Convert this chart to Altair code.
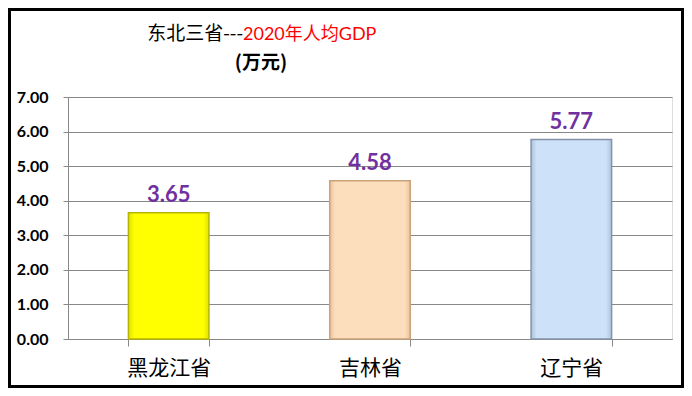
import altair as alt
import pandas as pd

provinces = ["黑龙江省", "吉林省", "辽宁省"]
gdp_per_capita = [3.65, 4.58, 5.77]
bar_fills = ["#FFFF00", "#FDDEBC", "#CDE1F9"]
bar_shades = ["#E0E000", "#E8C39E", "#AFC3DC"]
bar_edges = ["#B5B500", "#C9A27A", "#8593A8"]
y_ticks = [0, 1, 2, 3, 4, 5, 6, 7]

df = pd.DataFrame({"province": provinces, "gdp": gdp_per_capita})

x_enc = alt.X("province:N", sort=provinces,
              scale=alt.Scale(domain=provinces, paddingInner=0.6, paddingOuter=0.3),
              axis=alt.Axis(title=None, labelAngle=0, labelFont="Noto Sans CJK SC",
                            labelFontSize=21, labelColor="#000000", labelPadding=11,
                            domainColor="#888888", tickColor="#888888", tickSize=7,
                            tickBand="extent"))
y_enc = alt.Y("gdp:Q", scale=alt.Scale(domain=[0, 7], nice=False),
              axis=alt.Axis(title=None, values=y_ticks, format=".2f", labelOverlap=False,
                            labelFont="Lato", labelFontWeight="bold", labelFontSize=16,
                            labelColor="#000000", labelPadding=15,
                            domainColor="#888888", tickColor="#888888", tickSize=5,
                            gridColor="#888888", gridWidth=1, gridOpacity=1))

bar_layers = []
for p, fill, shade, edge in zip(provinces, bar_fills, bar_shades, bar_edges):
    grad = alt.LinearGradient(
        gradient="linear", x1=0, x2=1, y1=0, y2=0,
        stops=[alt.GradientStop(offset=0, color=shade),
               alt.GradientStop(offset=0.07, color=fill),
               alt.GradientStop(offset=0.93, color=fill),
               alt.GradientStop(offset=1, color=shade)])
    bar_layers.append(
        alt.Chart(df).transform_filter(alt.datum.province == p)
        .mark_bar(color=grad, stroke=edge, strokeWidth=1.5)
        .encode(x=x_enc, y=y_enc)
    )

labels = alt.Chart(df).mark_text(font="Lato", fontWeight="bold", fontSize=22,
                                  color="#7030A0", baseline="bottom", dy=-6).encode(
    x=x_enc, y=y_enc, text=alt.Text("gdp:Q", format=".2f"))

one = alt.Data(values=[{"k": 1}])
title_black = alt.Chart(one).mark_text(font="Noto Sans CJK SC", fontSize=19, align="right",
                                       baseline="alphabetic", color="#000000").encode(
    x=alt.value(175), y=alt.value(-57), text=alt.value("东北三省---"))
title_red = alt.Chart(one).mark_text(font="Lato, Noto Sans CJK SC", fontSize=18, align="left",
                                     baseline="alphabetic", color="#FF0000").encode(
    x=alt.value(175), y=alt.value(-57), text=alt.value("2020年人均GDP"))
title_unit = alt.Chart(one).mark_text(font="Noto Sans CJK SC", fontSize=19, align="center",
                                      baseline="middle", color="#000000", fontWeight="bold").encode(
    x=alt.value(193), y=alt.value(-34), text=alt.value("(万元)"))
border = alt.Chart(one).mark_rect(fill=None, stroke="#000000", strokeWidth=3).encode(
    x=alt.value(-58.5), x2=alt.value(614.5), y=alt.value(-87.5), y2=alt.value(289.5))

chart = alt.layer(*bar_layers, labels, title_black, title_red, title_unit, border).properties(
    width=604, height=242,
    padding={"left": 60, "top": 89, "right": 12, "bottom": 49},
    autosize="none",
).configure_view(stroke=None).configure(background="#FFFFFF")

chart.save("out.html", embed_options={"renderer": "svg", "actions": False})
